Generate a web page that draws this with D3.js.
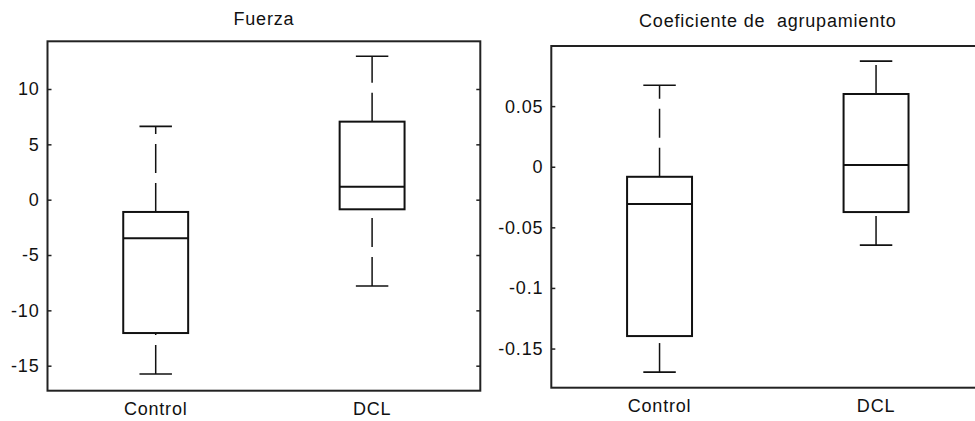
<!DOCTYPE html>
<html>
<head>
<meta charset="utf-8">
<script src="https://cdn.jsdelivr.net/npm/d3@7"></script>
<style>
  body { margin: 0; background: #fff; }
  svg text { font-family: "Liberation Sans", Arial, sans-serif; font-size: 18px; letter-spacing: 0.8px; fill: #111; }
</style>
</head>
<body>
<svg id="chart" width="975" height="421"></svg>
<script>
// groupes
var groups = ["Control", "DCL"];

// Fuerza : [min, q1, mediane, q3, max] par groupe
var fuerzaControl = [-15.75, -12.05, -3.49, -1.11, 6.63];
var fuerzaDCL = [-7.80, -0.87, 1.17, 7.05, 12.96];
var fuerzaTicks = [-15, -10, -5, 0, 5, 10];

// Coeficiente de agrupamiento
var coefControl = [-0.1694, -0.1397, -0.0308, -0.0083, 0.0672];
var coefDCL = [-0.0646, -0.0374, 0.0014, 0.060, 0.0872];
var coefTicks = [-0.15, -0.1, -0.05, 0, 0.05];

var svg = d3.select("#chart");

function boxPanel(opts) {
    var g = svg.append("g");

    var x = d3.scaleLinear().domain([0.5, 2.5]).range([opts.left, opts.right]);
    var y = d3.scaleLinear().domain(opts.ydomain).range([opts.bottom, opts.top]);

    // cadre
    g.append("rect")
        .attr("x", opts.left).attr("y", opts.top)
        .attr("width", opts.right - opts.left)
        .attr("height", opts.bottom - opts.top)
        .attr("fill", "none")
        .attr("stroke", "#222")
        .attr("stroke-width", 2);

    // graduations vers l'interieur, des deux cotes
    g.append("g")
        .attr("transform", "translate(" + opts.left + ",0)")
        .call(d3.axisRight(y).tickValues(opts.ticks).tickSize(4).tickFormat(""))
        .call(function(a) { a.select(".domain").remove(); a.selectAll("line").attr("stroke", "#222").attr("stroke-width", 1.5); });
    g.append("g")
        .attr("transform", "translate(" + opts.right + ",0)")
        .call(d3.axisLeft(y).tickValues(opts.ticks).tickSize(4).tickFormat(""))
        .call(function(a) { a.select(".domain").remove(); a.selectAll("line").attr("stroke", "#222").attr("stroke-width", 1.5); });

    // etiquettes
    g.selectAll("text.ylab")
        .data(opts.ticks)
        .enter().append("text")
        .attr("class", "ylab")
        .attr("x", opts.left - 8)
        .attr("y", function(d) { return y(d); })
        .attr("dy", "0.36em")
        .attr("text-anchor", "end")
        .text(function(d) { return String(d).replace(/^(-?)0\./, "$10.").replace("-0.", "-0."); });

    g.selectAll("text.xlab")
        .data(groups)
        .enter().append("text")
        .attr("class", "xlab")
        .attr("x", function(d, i) { return x(i + 1); })
        .attr("y", opts.bottom + 24.5)
        .attr("text-anchor", "middle")
        .text(function(d) { return d; });

    g.append("text")
        .attr("x", (opts.left + opts.right) / 2)
        .attr("y", opts.titleY)
        .attr("text-anchor", "middle")
        .style("white-space", "pre")
        .text(opts.title);

    var halfBox = (x(1.15) - x(1));
    var halfCap = (x(1.075) - x(1));

    opts.stats.forEach(function(s, i) {
        var cx = x(i + 1);
        // moustaches (tracees du bas vers le haut)
        [[s[0], s[1]], [s[3], s[4]]].forEach(function(w) {
            g.append("line")
                .attr("x1", cx).attr("x2", cx)
                .attr("y1", y(w[0])).attr("y2", y(w[1]))
                .attr("stroke", "#111")
                .attr("stroke-width", 1.5)
                .attr("stroke-dasharray", "29,10");
        });
        [s[0], s[4]].forEach(function(v) {
            g.append("line")
                .attr("x1", cx - halfCap).attr("x2", cx + halfCap)
                .attr("y1", y(v)).attr("y2", y(v))
                .attr("stroke", "#111")
                .attr("stroke-width", 1.7);
        });
        g.append("rect")
            .attr("x", cx - halfBox)
            .attr("y", y(s[3]))
            .attr("width", 2 * halfBox)
            .attr("height", y(s[1]) - y(s[3]))
            .attr("fill", "none")
            .attr("stroke", "#111")
            .attr("stroke-width", 2);
        g.append("line")
            .attr("x1", cx - halfBox).attr("x2", cx + halfBox)
            .attr("y1", y(s[2])).attr("y2", y(s[2]))
            .attr("stroke", "#111")
            .attr("stroke-width", 2);
    });
}

boxPanel({
    left: 47.5, right: 480.3, top: 41.3, bottom: 390.7,
    ydomain: [-17.26, 14.31],
    ticks: fuerzaTicks,
    stats: [fuerzaControl, fuerzaDCL],
    title: "Fuerza",
    titleY: 24.5
});

boxPanel({
    left: 551.3, right: 984.3, top: 46, bottom: 387.7,
    ydomain: [-0.1823, 0.0996],
    ticks: coefTicks,
    stats: [coefControl, coefDCL],
    title: "Coeficiente de  agrupamiento",
    titleY: 27
});
</script>
</body>
</html>
